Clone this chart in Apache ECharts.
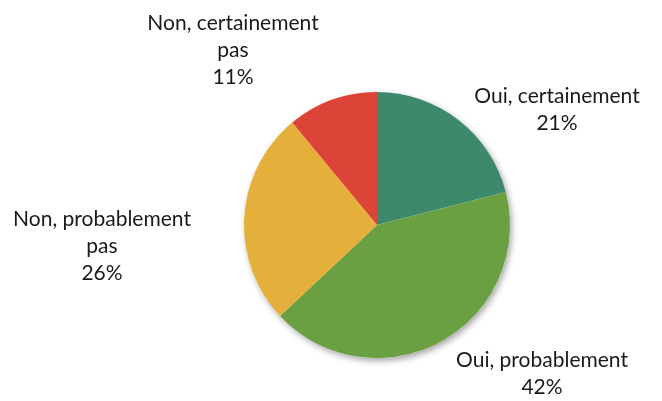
<!DOCTYPE html>
<html>
<head>
<meta charset="utf-8">
<script src="https://cdn.jsdelivr.net/npm/echarts@6/dist/echarts.min.js"></script>
<style>
  html, body { margin: 0; padding: 0; background: #fff; }
  #chart { width: 662px; height: 401px; }
</style>
</head>
<body>
<div id="chart"></div>
<script>
const categories = ['Oui, certainement', 'Oui, probablement', 'Non, probablement pas', 'Non, certainement pas'];
const labelTexts = ['Oui, certainement', 'Oui, probablement', 'Non, probablement\npas', 'Non, certainement\npas'];
const values = [21, 42, 26, 11];
const colors = ['#3e896c', '#6a9f42', '#e4af3a', '#db4436'];

// where each label sits (centre of the text block)
const labelSpots = [
	{ x: 557, y: 110 },
	{ x: 542, y: 374 },
	{ x: 102, y: 246 },
	{ x: 233, y: 50 },
];

const myChart = echarts.init(document.getElementById('chart'));

const option = {
	animation: false,
	series: [
		{
			// plain disc under the slices, only for the soft shadow
			type: 'pie',
			silent: true,
			center: [377, 225],
			radius: 133,
			label: { show: false },
			labelLine: { show: false },
			itemStyle: {
				color: '#ffffff',
				shadowBlur: 6,
				shadowOffsetX: 2,
				shadowOffsetY: 3,
				shadowColor: 'rgba(0,0,0,0.35)',
			},
			data: [1],
		},
		{
			type: 'pie',
			center: [377, 225],
			radius: 133,
			startAngle: 90,
			clockwise: true,
			data: categories.map((c, i) => ({
				name: c,
				value: values[i],
				itemStyle: { color: colors[i] },
			})),
			label: {
				show: true,
				position: 'outside',
				formatter: (p) => labelTexts[p.dataIndex] + '\n' + p.value + '%',
				fontFamily: 'Lato',
				fontSize: 21,
				lineHeight: 27,
				color: '#1a1a1a',
				align: 'center',
				overflow: 'none',
				width: 240,
			},
			labelLine: { show: false },
			labelLayout: (params) => ({
				x: labelSpots[params.dataIndex].x,
				y: labelSpots[params.dataIndex].y,
				align: 'center',
				verticalAlign: 'middle',
			}),
		},
	],
};

myChart.setOption(option);
</script>
</body>
</html>
